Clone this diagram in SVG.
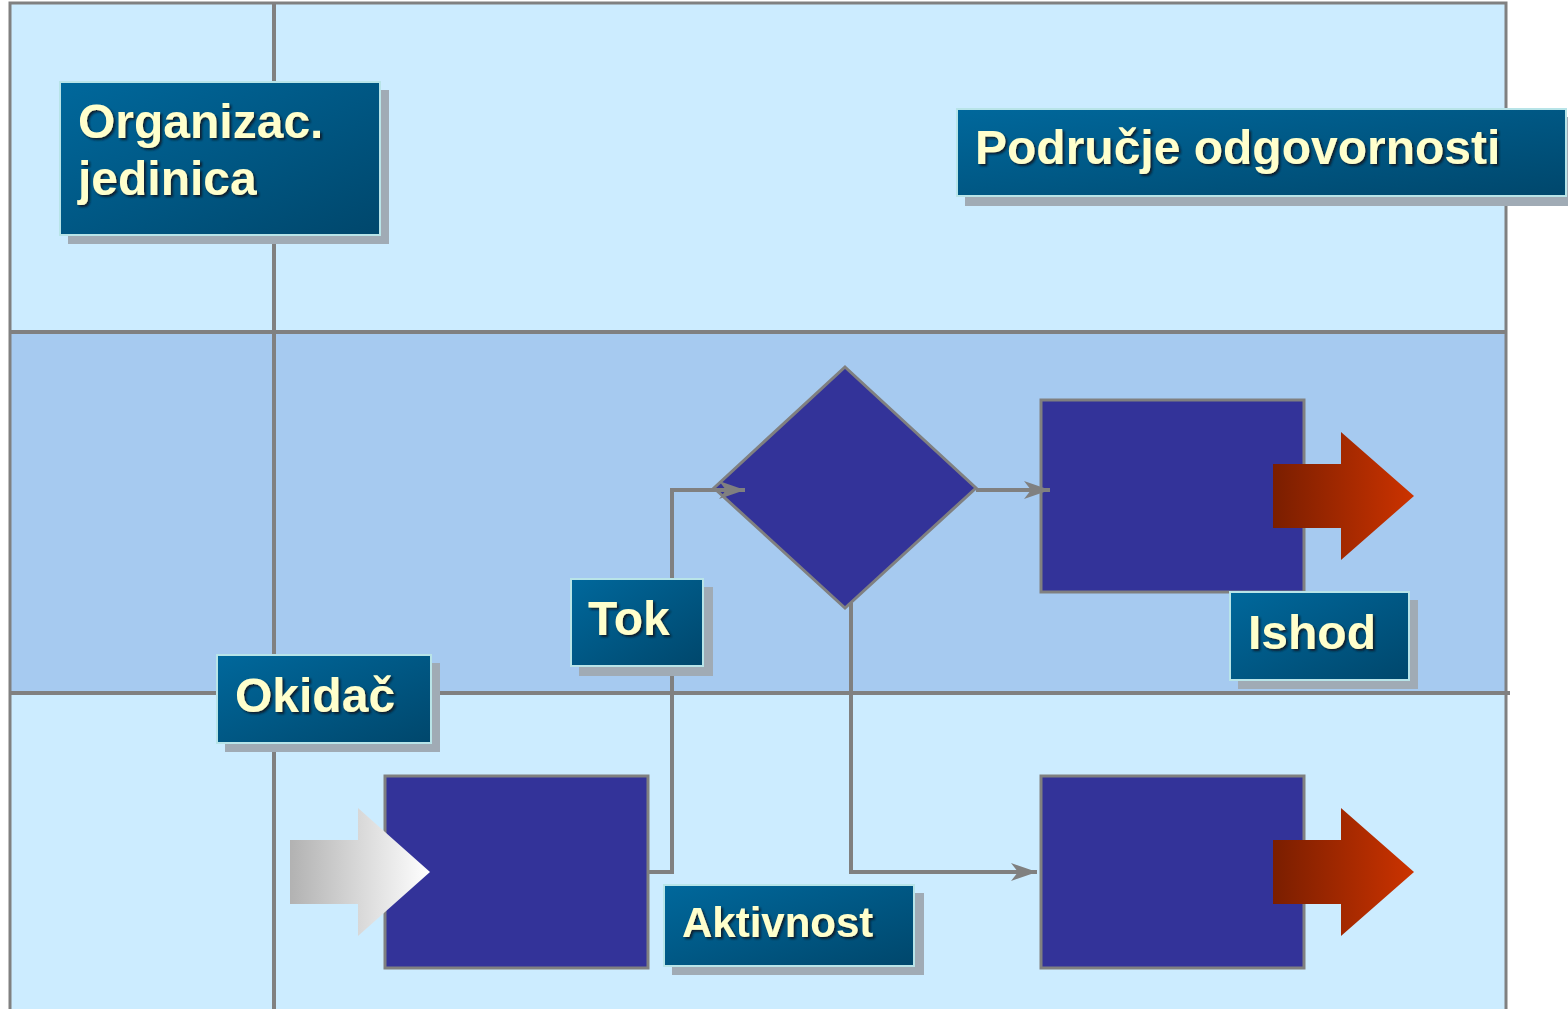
<svg xmlns="http://www.w3.org/2000/svg" width="1568" height="1009" viewBox="0 0 1568 1009">
  <defs>
    <style>
      .band-light { fill: #CCECFF; }
      .band-dark { fill: #A6CAF0; }
      .grid { stroke: #808080; stroke-width: 4; fill: none; }
      .frame { stroke: #808080; stroke-width: 3; fill: none; }
      .shape { fill: #333399; stroke: #808080; stroke-width: 3; }
      .conn { stroke: #808080; stroke-width: 4; fill: none; }
      .lbl { fill: url(#lblGrad); stroke: #B8E4E8; stroke-width: 2; }
      .shadow { fill: #A0ABB5; }
      .txt { font-family: "Liberation Sans", Arial, sans-serif; font-weight: bold; font-size: 48px; fill: #FFFFCC; filter: url(#txtShadow); }
    </style>
    <linearGradient id="lblGrad" x1="0" y1="0" x2="1" y2="1">
      <stop offset="0" stop-color="#00689C"/>
      <stop offset="1" stop-color="#00476C"/>
    </linearGradient>
    <linearGradient id="redGrad" x1="0" y1="0" x2="1" y2="0">
      <stop offset="0" stop-color="#7A1E00"/>
      <stop offset="1" stop-color="#CC3300"/>
    </linearGradient>
    <linearGradient id="grayGrad" x1="0" y1="0" x2="1" y2="0">
      <stop offset="0" stop-color="#B2B2B2"/>
      <stop offset="1" stop-color="#FFFFFF"/>
    </linearGradient>
    <filter id="txtShadow" x="-10%" y="-10%" width="130%" height="140%">
      <feDropShadow dx="2" dy="2" stdDeviation="0.8" flood-color="#101820" flood-opacity="0.9"/>
    </filter>
    <marker id="arr" markerWidth="30" markerHeight="22" refX="28" refY="11" orient="auto" markerUnits="userSpaceOnUse">
      <path d="M28,11 L2,2 L9,11 L2,20 Z" fill="#808080"/>
    </marker>
  </defs>

  <g id="background">
    <rect class="band-light" x="10" y="3" width="1496" height="329"/>
    <rect class="band-dark" x="10" y="332" width="1496" height="361"/>
    <rect class="band-light" x="10" y="693" width="1496" height="320"/>
    <line class="grid" x1="10" y1="332" x2="1506" y2="332"/>
    <line class="grid" x1="10" y1="693" x2="1510" y2="693"/>
    <line class="grid" x1="274" y1="3" x2="274" y2="1009"/>
    <rect class="frame" x="10" y="3" width="1496" height="1012"/>
  </g>

  <g id="activity-start">
    <rect class="shape" x="385" y="776" width="263" height="192"/>
  </g>
  <g id="activity-outcome-top">
    <rect class="shape" x="1041" y="400" width="263" height="192"/>
  </g>
  <g id="activity-outcome-bottom">
    <rect class="shape" x="1041" y="776" width="263" height="192"/>
  </g>
  <g id="decision">
    <polygon class="shape" points="845,367 976,488 845,608 714,488"/>
  </g>

  <g id="connectors">
    <polyline class="conn" points="648,872 672,872 672,490 745,490" marker-end="url(#arr)"/>
    <line class="conn" x1="976" y1="490" x2="1050" y2="490" marker-end="url(#arr)"/>
    <polyline class="conn" points="851,603 851,872 1037,872" marker-end="url(#arr)"/>
  </g>

  <g id="trigger-arrow">
    <polygon fill="url(#grayGrad)" points="290,840 358,840 358,808 430,872 358,936 358,904 290,904"/>
  </g>
  <g id="outcome-arrow-top">
    <polygon fill="url(#redGrad)" points="1273,464 1341,464 1341,432 1414,496 1341,560 1341,528 1273,528"/>
  </g>
  <g id="outcome-arrow-bottom">
    <polygon fill="url(#redGrad)" points="1273,840 1341,840 1341,808 1414,872 1341,936 1341,904 1273,904"/>
  </g>

  <g id="label-organizac">
    <rect class="shadow" x="68" y="90" width="321" height="154"/>
    <rect class="lbl" x="60" y="82" width="320" height="153"/>
    <text class="txt" x="78" y="138">Organizac.</text>
    <text class="txt" x="78" y="195">jedinica</text>
  </g>
  <g id="label-podrucje">
    <rect class="shadow" x="965" y="117" width="603" height="89"/>
    <rect class="lbl" x="957" y="109" width="609" height="87"/>
    <text class="txt" x="975" y="164">Područje odgovornosti</text>
  </g>
  <g id="label-tok">
    <rect class="shadow" x="579" y="587" width="134" height="89"/>
    <rect class="lbl" x="571" y="579" width="132" height="87"/>
    <text class="txt" x="588" y="635">Tok</text>
  </g>
  <g id="label-okidac">
    <rect class="shadow" x="225" y="663" width="215" height="89"/>
    <rect class="lbl" x="217" y="655" width="214" height="88"/>
    <text class="txt" x="235" y="712">Okidač</text>
  </g>
  <g id="label-ishod">
    <rect class="shadow" x="1238" y="600" width="180" height="89"/>
    <rect class="lbl" x="1230" y="592" width="179" height="88"/>
    <text class="txt" x="1248" y="649">Ishod</text>
  </g>
  <g id="label-aktivnost">
    <rect class="shadow" x="672" y="893" width="252" height="82"/>
    <rect class="lbl" x="664" y="885" width="250" height="81"/>
    <text class="txt" x="682" y="937" style="font-size:42px">Aktivnost</text>
  </g>
</svg>
